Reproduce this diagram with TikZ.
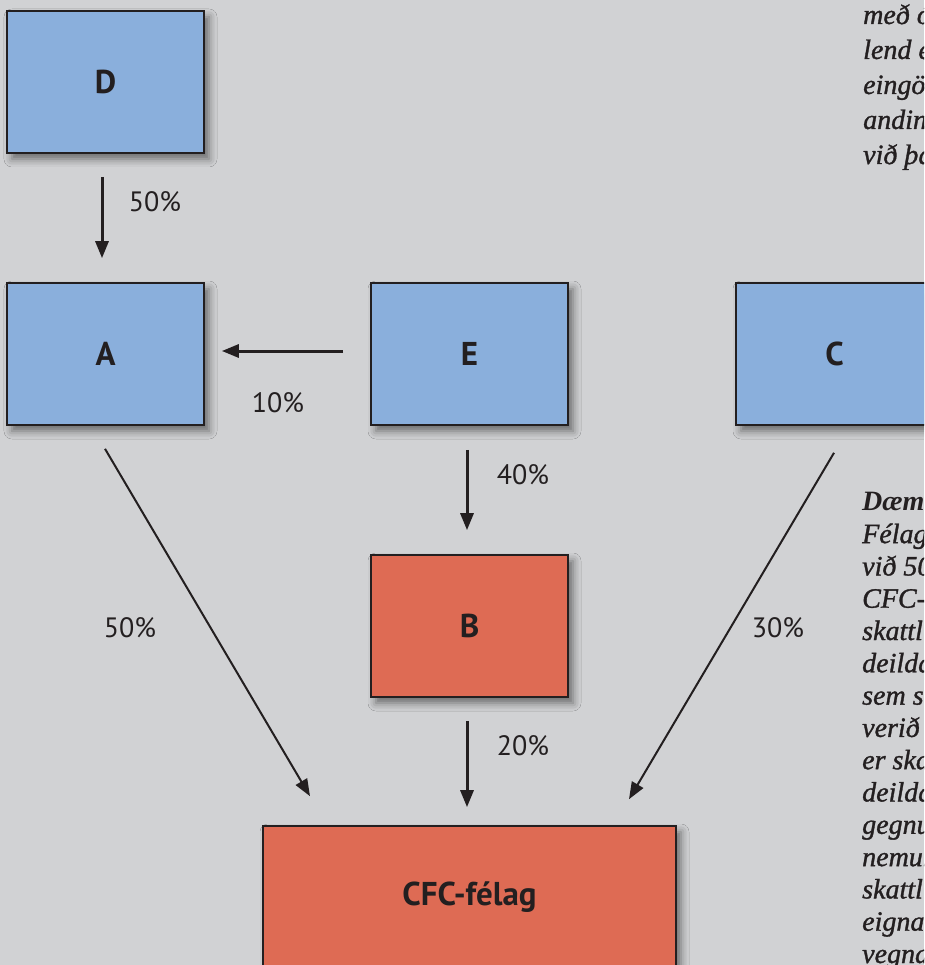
\documentclass[tikz,border=0pt]{standalone}
\usepackage{fontspec}
\usetikzlibrary{arrows.meta,shadows.blur}
\newfontfamily\labelfont{PT Sans}
\newfontfamily\notefont[ItalicFeatures={FakeBold=1.2}]{Liberation Serif}

\definecolor{pagebg}{RGB}{209,210,212}
\definecolor{boxblue}{RGB}{138,175,220}
\definecolor{boxred}{RGB}{222,107,84}
\definecolor{ink}{RGB}{35,31,32}

\tikzset{
  entity/.style={draw=ink, line width=1.6pt, minimum width=197pt, minimum height=142pt,
    inner sep=0pt, font=\labelfont\bfseries\fontsize{33}{38}\selectfont, text=ink,
    blur shadow={shadow xshift=5pt, shadow yshift=-6pt, shadow blur radius=8pt, shadow opacity=50}},
  owner/.style={entity, fill=boxblue},
  target/.style={entity, fill=boxred},
  share/.style={draw=ink, line width=3pt, -{Triangle[length=17pt,width=13pt]}},
  slant/.style={draw=ink, line width=2pt, -{Triangle[length=17pt,width=13pt]}},
  pct/.style={font=\labelfont\fontsize{28}{32}\selectfont, text=ink, inner sep=0pt},
  note/.style={anchor=base west, align=left, inner sep=0pt, text=ink}
}

\begin{document}
\begin{tikzpicture}[x=1pt,y=-1pt]
  \useasboundingbox (0,0) rectangle (924,965);
  \clip (0,0) rectangle (924,965);
  \fill[pagebg] (0,0) rectangle (924,965);

  % ownership boxes
  \node[owner]  (D) at (105.5,82)  {D};
  \node[owner]  (A) at (105.5,354) {A};
  \node[owner]  (E) at (469.5,354) {E};
  \node[owner]  (C) at (834.5,354) {C};
  \node[target] (B) at (469.5,626) {B};
  \node[target, minimum width=413pt] (CFC) at (469.5,897) {CFC-félag};

  % holdings
  \draw[share] ([xshift=-3.5pt,yshift=-23pt]D.south) -- ([xshift=-3.5pt,yshift=24pt]A.north);
  \draw[share] ([xshift=-27pt,yshift=3pt]E.west) -- ([xshift=17pt,yshift=3pt]A.east);
  \draw[share] ([xshift=-2.5pt,yshift=-24pt]E.south) -- ([xshift=-2.5pt,yshift=24pt]B.north);
  \draw[share] ([xshift=-2.5pt,yshift=-23pt]B.south) -- ([xshift=-2.5pt,yshift=18pt]CFC.north);
  \draw[slant] ([xshift=-0.5pt,yshift=-23pt]A.south) -- ([xshift=-159.5pt,yshift=29pt]CFC.north);
  \draw[slant] ([xshift=-0.5pt,yshift=-27pt]C.south) -- ([xshift=159.5pt,yshift=26pt]CFC.north);

  % percentages
  \node[pct] (pDA) at (155,202) {50\%};
  \node[pct] (pEA) at (278,403) {10\%};
  \node[pct] (pEB) at (523,475) {40\%};
  \node[pct] (pBC) at (523,746) {20\%};
  \node[pct] (pAC) at (130,628) {50\%};
  \node[pct] (pCC) at (778,628) {30\%};

  % side text (node anchored on the baseline of its last line)
  \node[note, font=\notefont\itshape\fontsize{28}{35}\selectfont] (topnote) at (863,164)
    {með ó\\lend e\\eingön\\andin\\við þá};
  \node[note, font=\notefont\itshape\fontsize{28}{32.3}\selectfont] (example) at (862,963)
    {\bfseries Dæm\\Félagi\\við 50\\CFC-f\\skattl\\deilda\\sem st\\verið a\\er ska\\deilda\\gegnum\\nemur\\skattl\\eignar\\vegna};
\end{tikzpicture}
\end{document}
